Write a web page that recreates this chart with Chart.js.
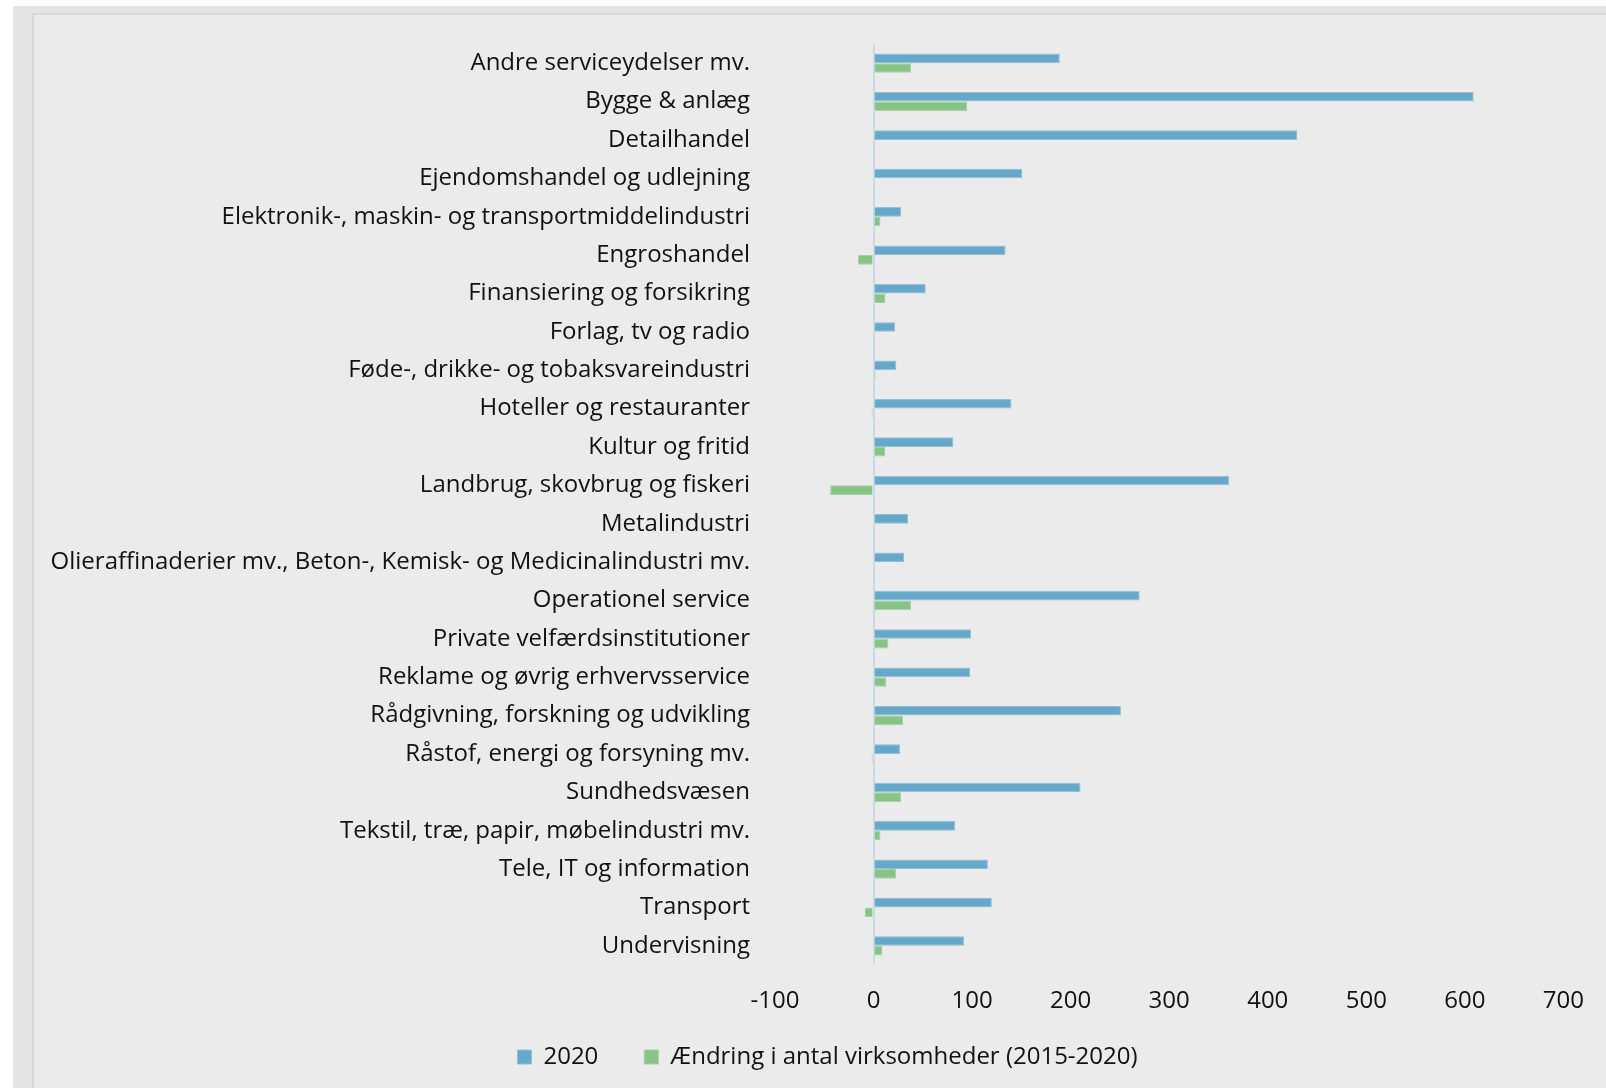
<!DOCTYPE html>
<html>
<head>
<meta charset="utf-8">
<script src="https://cdn.jsdelivr.net/npm/chart.js@4"></script>
<style>
    body { margin: 0; background: #ffffff; width: 1606px; height: 1088px; overflow: hidden; position: relative; }
    #outer { position: absolute; left: 13px; top: 6px; width: 1593px; height: 1082px; background: #e4e4e4; }
    #inner { position: absolute; left: 32px; top: 13px; width: 1574px; height: 1075px; background: #ebebeb;
             border-left: 2px solid #d8d8d8; border-top: 2px solid #d8d8d8; box-sizing: border-box; }
    #box { position: absolute; left: 0; top: 0; width: 1572px; height: 1073px; }
</style>
</head>
<body>
<div id="outer"></div>
<div id="inner"><div id="box"><canvas id="myChart"></canvas></div></div>
<script>
// DATA
const brancher = [
    'Andre serviceydelser mv.',
    'Bygge & anlæg',
    'Detailhandel',
    'Ejendomshandel og udlejning',
    'Elektronik-, maskin- og transportmiddelindustri',
    'Engroshandel',
    'Finansiering og forsikring',
    'Forlag, tv og radio',
    'Føde-, drikke- og tobaksvareindustri',
    'Hoteller og restauranter',
    'Kultur og fritid',
    'Landbrug, skovbrug og fiskeri',
    'Metalindustri',
    'Olieraffinaderier mv., Beton-, Kemisk- og Medicinalindustri mv.',
    'Operationel service',
    'Private velfærdsinstitutioner',
    'Reklame og øvrig erhvervsservice',
    'Rådgivning, forskning og udvikling',
    'Råstof, energi og forsyning mv.',
    'Sundhedsvæsen',
    'Tekstil, træ, papir, møbelindustri mv.',
    'Tele, IT og information',
    'Transport',
    'Undervisning'
];
const antal2020 = [189, 609, 430, 151, 28, 134, 53, 22, 23, 140, 81, 361, 35, 31, 270, 99, 98, 251, 27, 210, 83, 116, 120, 92];
const aendring = [38, 95, 1, 1, 7, -16, 12, 1, 2, -2, 12, -44, -1, -1, 38, 15, 13, 30, -2, 28, 7, 23, -9, 9];
const xTicks = [-100, 0, 100, 200, 300, 400, 500, 600, 700];

// MOVE THE LEGEND UP (CLOSER TO THE AXIS LABELS) AND A LITTLE TO THE RIGHT
const legendShift = {
    id: 'legendShift',
    afterLayout: (chart) => {
        const lg = chart.legend;
        lg.top -= 20;
        lg.bottom = chart.height;
        lg.left += 27;
        lg.right += 27;
    }
};

// CREATING CHART
const ctx = document.getElementById('myChart').getContext('2d');

Chart.defaults.font.family = "'Open Sans', sans-serif";
Chart.defaults.font.size = 24;
Chart.defaults.color = '#111111';

const myChart = new Chart(ctx, {
    type: 'bar',
    data: {
        labels: brancher,
        datasets: [{
            label: '2020',
            data: antal2020,
            backgroundColor: '#66a8c9',
            borderColor: '#8fbfd7',
            borderWidth: 1,
            categoryPercentage: 0.5,
            barPercentage: 1.0
        },
        {
            label: 'Ændring i antal virksomheder (2015-2020)',
            data: aendring,
            backgroundColor: '#86c384',
            borderColor: '#a5d2a3',
            borderWidth: 1,
            categoryPercentage: 0.5,
            barPercentage: 1.0
        }]
    },
    plugins: [legendShift],
    options: {
        indexAxis: 'y',
        responsive: true,
        maintainAspectRatio: false,
        animation: false,
        layout: {
            padding: { top: 29, right: 39, left: 0, bottom: 8 }
        },
        plugins: {
            legend: {
                position: 'bottom',
                maxHeight: 61,
                labels: {
                    boxWidth: 14,
                    boxHeight: 14,
                    padding: 46,
                    font: { size: 24 }
                }
            },
            tooltip: { enabled: false }
        },
        scales: {
            x: {
                min: -100,
                max: 700,
                afterBuildTicks: (scale) => {
                    scale.ticks = xTicks.map(v => ({ value: v }));
                },
                afterFit: (scale) => {
                    scale.height = 54;
                },
                ticks: {
                    padding: 22
                },
                grid: {
                    drawTicks: false,
                    lineWidth: 2,
                    color: (c) => (c.tick && c.tick.value === 0) ? '#c6dde8' : 'rgba(0,0,0,0)'
                },
                border: { display: false }
            },
            y: {
                afterFit: (scale) => {
                    scale.width = 741;
                    scale.paddingTop = 0;
                    scale.paddingBottom = 0;
                },
                ticks: {
                    padding: 25,
                    autoSkip: false
                },
                grid: { display: false, drawTicks: false },
                border: { display: false }
            }
        }
    }
});
</script>
</body>
</html>
